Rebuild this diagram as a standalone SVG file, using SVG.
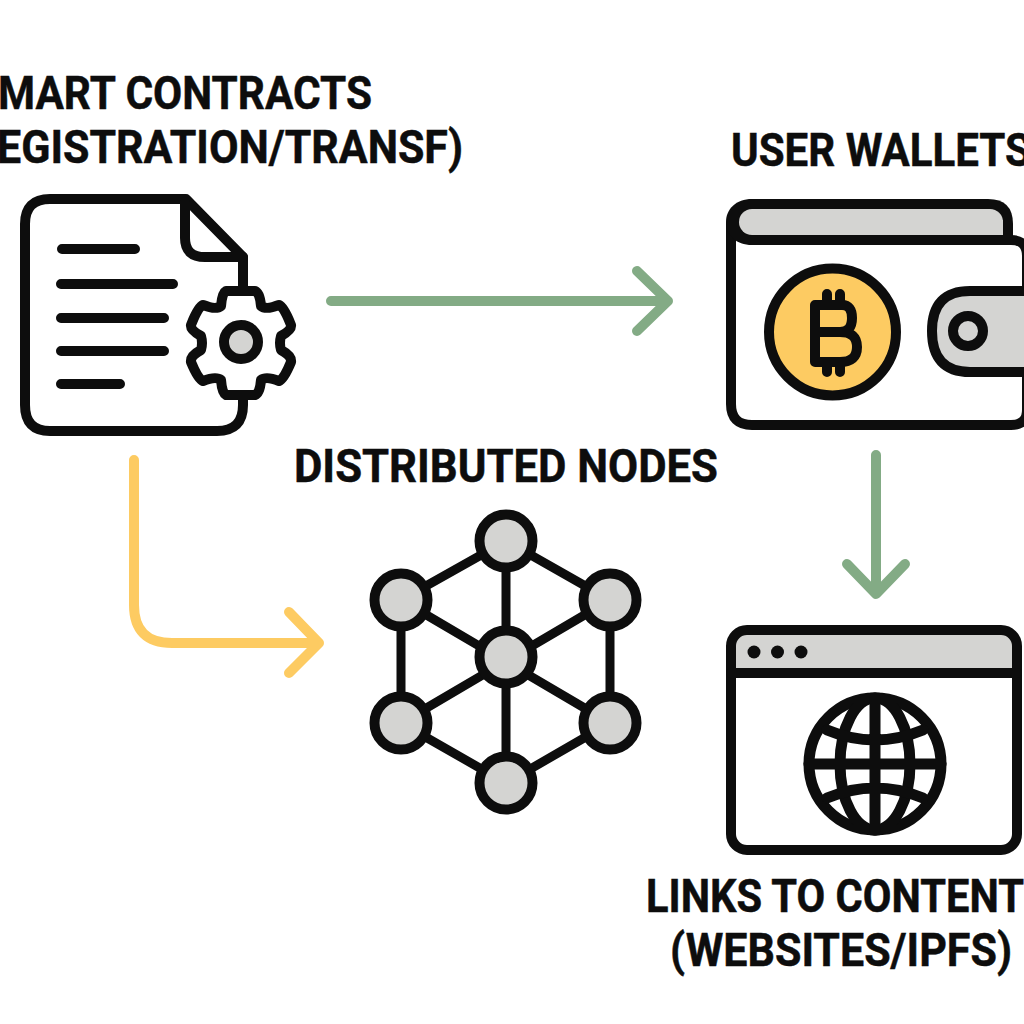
<svg xmlns="http://www.w3.org/2000/svg" width="1024" height="1024" viewBox="0 0 1024 1024">
<style>
.t{font-family:Roboto,"Noto Sans","Liberation Sans",sans-serif;font-weight:700;font-size:46px;fill:#0d0d0d;stroke:#0d0d0d;stroke-width:.5}
.k{fill:none;stroke:#0d0d0d;stroke-width:10;stroke-linecap:round;stroke-linejoin:round}
.g{fill:#d4d4d2}
.c{fill:none;stroke-width:10;stroke-linecap:round;stroke-linejoin:round}
.n{fill:#d4d4d2;stroke:#0d0d0d;stroke-width:10}
</style>
<rect width="1024" height="1024" fill="#fff"/>
<g id="connectors">
<path class="c" stroke="#83ab85" d="M331 301H668M637 271L668 301L637 331"/>
<path class="c" stroke="#fdcb62" d="M134 460V605Q134 643 172 643H319M289 612L319 643L289 673"/>
<path class="c" stroke="#83ab85" d="M876 455V594M847 564L876 594L905 564"/>
</g>
<g id="smart-contracts">
<text class="t" textLength="374" lengthAdjust="spacingAndGlyphs" x="-2" y="109">MART CONTRACTS</text>
<text class="t" textLength="466" lengthAdjust="spacingAndGlyphs" x="-3" y="163">EGISTRATION/TRANSF)</text>
<path class="k" d="M243 290V257L186 199H50Q25 199 25 224V405Q25 431 50 431H217Q243 431 243 405V392"/>
<path class="k" d="M185 202V238Q185 257 205 257H243"/>
<path class="k" d="M62 249H135M61 284H173M61 318H164M61 351H164M61 384H120"/>
<path class="k" style="fill:#fff" d="M226 291L255 291Q260 293 261 306Q266 310 279 305Q284 307 291 325Q292 330 281 336Q279 343 281 350Q292 356 291 362Q284 379 279 381Q266 376 261 380Q260 393 255 395H226Q222 393 221 380Q216 376 203 381Q198 379 191 362Q190 356 201 350Q203 343 201 336Q190 330 191 325Q198 307 203 305Q216 310 221 306Q222 293 226 291Z"/>
<circle class="n" cx="241" cy="342" r="17"/>
</g>
<g id="user-wallets">
<text class="t" textLength="300" lengthAdjust="spacingAndGlyphs" x="731" y="166">USER WALLETS</text>
<path class="k" d="M1005 240H1011Q1027 240 1027 256V410Q1027 425 1011 425H752Q731 425 731 404V224"/>
<path fill="#0d0d0d" d="M752 199H988Q1013 199 1013 224V245H752C736 245 726 235 726 222C726 209 736 199 752 199Z"/>
<rect class="g" x="739" y="209" width="264" height="26" rx="13"/>
<rect x="990" y="220" width="13" height="15" class="g"/>
<circle cx="832.500" cy="332" r="63.500" fill="#fdcb62" stroke="#0d0d0d" stroke-width="10"/>
<path class="k" d="M815 305H842Q852 305 852 318Q852 332 840 332H815M840 332Q857 332 857 347Q857 362 840 362H815M815 305V362M827 294V305M840 294V305M827 362V372M840 362V372"/>
<path class="g" d="M1029 291H970Q932 291 932 331Q932 372 970 372H1029Z" stroke="#0d0d0d" stroke-width="10"/>
<circle cx="968" cy="331" r="15" class="n"/>
</g>
<g id="distributed-nodes">
<text class="t" textLength="424" lengthAdjust="spacingAndGlyphs" x="294" y="482">DISTRIBUTED NODES</text>
<path class="k" style="stroke-width:9" d="M506 541L401 600V723L506 783L610 723V600ZM506 541V783M401 600L610 723M610 600L401 723"/>
<circle class="n" cx="506" cy="541" r="26.500"/>
<circle class="n" cx="401" cy="600" r="26.500"/>
<circle class="n" cx="610" cy="600" r="26.500"/>
<circle class="n" cx="506" cy="657" r="26.500"/>
<circle class="n" cx="401" cy="723" r="26.500"/>
<circle class="n" cx="610" cy="723" r="26.500"/>
<circle class="n" cx="506" cy="783" r="26.500"/>
</g>
<g id="links-to-content">
<path class="g" d="M736 635H1012V668H736Z"/>
<rect class="k" x="731" y="630" width="286" height="220" rx="16"/>
<path class="k" d="M731 673H1017"/>
<circle cx="754" cy="652" r="6.500" fill="#0d0d0d"/><circle cx="777.500" cy="652" r="6.500" fill="#0d0d0d"/><circle cx="801" cy="652" r="6.500" fill="#0d0d0d"/>
<g class="k" style="stroke-width:11">
<circle cx="875" cy="764" r="66"/>
<ellipse cx="875" cy="764" rx="35" ry="66"/>
<path d="M875 698V830M809 764H941M827 730Q875 750 923 730M827 798Q875 778 923 798"/>
</g>
<text class="t" textLength="378" lengthAdjust="spacingAndGlyphs" x="646" y="912">LINKS TO CONTENT</text>
<text class="t" textLength="342" lengthAdjust="spacingAndGlyphs" x="670" y="966">(WEBSITES/IPFS)</text>
</g>
</svg>
